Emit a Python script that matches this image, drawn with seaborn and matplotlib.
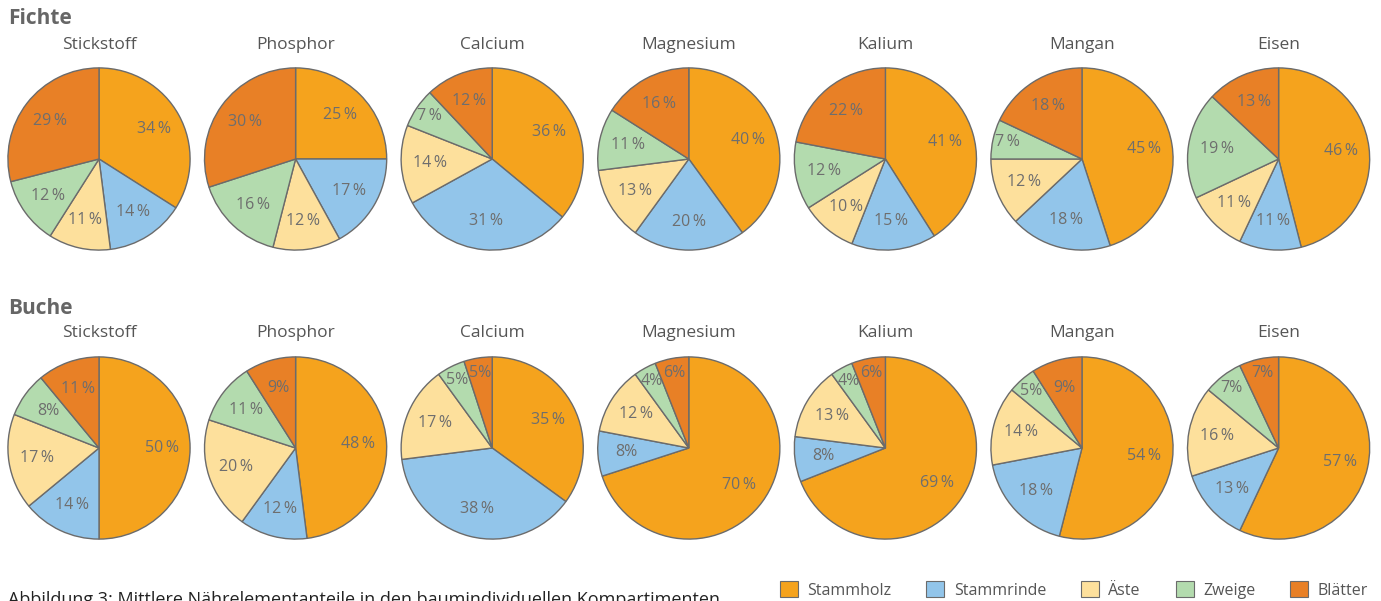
import numpy as np
import matplotlib
matplotlib.use("Agg")
import matplotlib.pyplot as plt
import matplotlib.patches as mpatches
import seaborn as sns

sns.set_theme(style="white")
plt.rcParams['font.family'] = ['Open Sans', 'DejaVu Sans']

# Daten
naehrelemente = ['Stickstoff', 'Phosphor', 'Calcium', 'Magnesium', 'Kalium', 'Mangan', 'Eisen']
kompartimente = ['Stammholz', 'Stammrinde', 'Äste', 'Zweige', 'Blätter']
baumarten = ['Fichte', 'Buche']

fichte = [
    [34, 14, 11, 12, 29],
    [25, 17, 12, 16, 30],
    [36, 31, 14, 7, 12],
    [40, 20, 13, 11, 16],
    [41, 15, 10, 12, 22],
    [45, 18, 12, 7, 18],
    [46, 11, 11, 19, 13],
]
buche = [
    [50, 14, 17, 8, 11],
    [48, 12, 20, 11, 9],
    [35, 38, 17, 5, 5],
    [70, 8, 12, 4, 6],
    [69, 8, 13, 4, 6],
    [54, 18, 14, 5, 9],
    [57, 13, 16, 7, 7],
]

farben = sns.color_palette(['#F5A31D', '#92C5EA', '#FDE09C', '#B3DBAE', '#E88026'])
rand = '#6b6b6b'
textgrau = '#6e6e6e'

W, H = 1381, 601
fig = plt.figure(figsize=(W / 100, H / 100), dpi=100)

r = 92
zeilen = [(fichte, 159, 18, 45), (buche, 448, 309, 333)]

for (werte, cy, ykopf, ytitel), art in zip(zeilen, baumarten):
    fig.text(8 / W, 1 - ykopf / H, art, fontsize=15, fontweight='bold',
             color='#666666', ha='left', va='center')
    for i, (name, v) in enumerate(zip(naehrelemente, werte)):
        cx = 99 + i * 196.6
        ax = fig.add_axes([(cx - r) / W, 1 - (cy + r) / H, 2 * r / W, 2 * r / H])
        wedges, _ = ax.pie(v, colors=farben, startangle=90, counterclock=False,
                           radius=0.99,
                           wedgeprops=dict(edgecolor=rand, linewidth=1.0))
        for w, val in zip(wedges, v):
            mitte = np.deg2rad((w.theta1 + w.theta2) / 2)
            d = 0.68 if val >= 8 else 0.83
            if art == 'Buche' and val < 10:
                txt = f'{val}%'
            else:
                txt = f'{val}\u2009%'
            ax.text(d * np.cos(mitte), d * np.sin(mitte), txt, ha='center',
                    va='center', fontsize=11.5, color=textgrau)
        ax.set_xlim(-1, 1)
        ax.set_ylim(-1, 1)
        ax.set_aspect('equal')
        ax.axis('off')
        fig.text(cx / W, 1 - ytitel / H, name, ha='center', va='center',
                 fontsize=12.5, color='#555555')

handles = [mpatches.Patch(facecolor=c, edgecolor=rand, linewidth=0.8, label=k)
           for c, k in zip(farben, kompartimente)]
fig.legend(handles=handles, loc='center right', bbox_to_anchor=(1368 / W, 1 - 590 / H),
           ncol=5, frameon=False, fontsize=11.5, handlelength=1.1, handleheight=1.1,
           handletextpad=0.6, columnspacing=2.2, labelcolor='#555555',
           borderaxespad=0, borderpad=0)

fig.text(8 / W, 1 - 591 / H,
         'Abbildung 3: Mittlere Nährelementanteile in den baumindividuellen Kompartimenten',
         ha='left', va='top', fontsize=13, color='#222222')

fig.savefig('out.png', dpi=100)
